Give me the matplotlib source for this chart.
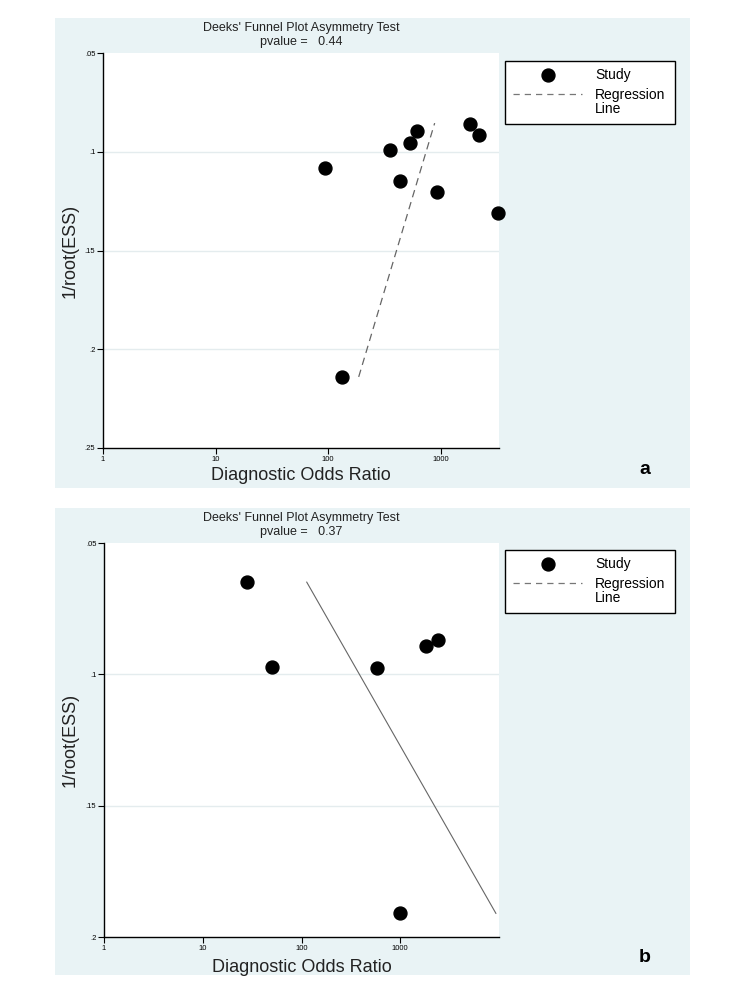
import numpy as np
import matplotlib
matplotlib.use('Agg')
from matplotlib import pyplot as plt
from matplotlib.patches import Rectangle
from matplotlib.lines import Line2D

plt.rcParams['font.family'] = ['Liberation Sans', 'DejaVu Sans']

# panel a data
dor_a = [93, 132, 354, 432, 530, 612, 921, 1811, 2176, 3212]
ess_a = [0.108, 0.214, 0.099, 0.115, 0.0955, 0.0895, 0.1205, 0.086, 0.0915, 0.131]
reg_x_a = [187, 885]
reg_y_a = [0.214, 0.0855]
pval_a = '0.44'

# panel b data
dor_b = [28.2, 50.3, 588, 1832, 2420, 1000]
ess_b = [0.0649, 0.0972, 0.0976, 0.0892, 0.0869, 0.191]
reg_x_b = [113, 9300]
reg_y_b = [0.0649, 0.191]
pval_b = '0.37'

yticks_a = [0.05, 0.1, 0.15, 0.2, 0.25]
yticks_b = [0.05, 0.1, 0.15, 0.2]
ylabels_a = ['.05', '.1', '.15', '.2', '.25']
ylabels_b = ['.05', '.1', '.15', '.2']
xticks = [1, 10, 100, 1000]
xlabels = ['1', '10', '100', '1000']

W, H = 752, 989
BG = '#e9f3f5'

def fbox(l, t, r, b):
    return [l / W, 1 - b / H, (r - l) / W, (b - t) / H]

fig = plt.figure(figsize=(W / 100, H / 100), dpi=100)

def panel(top, bottom, ax_box, xmax, ylim, yt, yl, dor, ess, rx, ry, dashed, pval, letter, leg_box, xlab_y):
    l, t, r, b = fbox(55, top, 690, bottom)
    fig.patches.append(Rectangle((l, t), r, b, transform=fig.transFigure,
                                 facecolor=BG, edgecolor='none', zorder=-5))
    ax = fig.add_axes(fbox(*ax_box))
    ax.set_zorder(1)
    ax.set_facecolor('white')
    ax.set_xscale('log')
    ax.set_xlim(1, xmax)
    ax.set_ylim(ylim[1], ylim[0])
    ax.set_yticks(yt)
    ax.set_yticklabels(yl, fontsize=5.5)
    ax.set_xticks(xticks)
    ax.set_xticklabels(xlabels, fontsize=5.5)
    ax.xaxis.set_minor_locator(matplotlib.ticker.NullLocator())
    ax.tick_params(length=4, width=0.8, pad=1.5)
    for s in ['top', 'right']:
        ax.spines[s].set_visible(False)
    ax.spines['left'].set_linewidth(1.0)
    ax.spines['bottom'].set_linewidth(1.0)
    for y in yt[1:-1]:
        ax.axhline(y, color='#e4ecee', lw=1.0, zorder=0)
    ax.plot(dor, ess, 'o', color='black', markersize=9.3, clip_on=False, zorder=3)
    if dashed:
        ax.plot(rx, ry, color='#666666', lw=0.9, dashes=(6, 4))
    else:
        ax.plot(rx, ry, color='#666666', lw=0.8)

    cx = (ax_box[0] + ax_box[2]) / 2 / W
    fig.text(cx, 1 - (top + 10) / H, "Deeks' Funnel Plot Asymmetry Test",
             ha='center', va='center', fontsize=9, color='#222222')
    fig.text(cx, 1 - (top + 24) / H, 'pvalue =   ' + pval,
             ha='center', va='center', fontsize=9, color='#222222')
    fig.text(cx, 1 - xlab_y / H, 'Diagnostic Odds Ratio',
             ha='center', va='center', fontsize=13, color='#222222')
    fig.text(70 / W, 1 - ((ax_box[1] + ax_box[3]) / 2) / H, '1/root(ESS)',
             ha='center', va='center', rotation=90, fontsize=13, color='#222222')
    fig.text(645 / W, 1 - (bottom - 18) / H, letter, ha='center', va='center',
             fontsize=14, fontweight='bold')

    # legend box
    ll, lt, lr, lb = leg_box
    fig.patches.append(Rectangle(((ll) / W, 1 - lb / H), (lr - ll) / W, (lb - lt) / H,
                                 transform=fig.transFigure, facecolor='white',
                                 edgecolor='black', lw=1.0, zorder=2))
    fig.lines.append(Line2D([548 / W], [1 - (lt + 14) / H], marker='o', color='black',
                            markersize=9.3, transform=fig.transFigure, zorder=3))
    fig.text(595 / W, 1 - (lt + 14) / H, 'Study', va='center', fontsize=10, zorder=3)
    fig.lines.append(Line2D([513 / W, 582 / W], [1 - (lt + 33) / H] * 2, color='#777777',
                            lw=0.9, dashes=(5, 4), transform=fig.transFigure, zorder=3))
    fig.text(595 / W, 1 - (lt + 41) / H, 'Regression\nLine', va='center', fontsize=10,
             linespacing=1.05, zorder=3)
    return ax

panel(18, 488, (103, 53, 499, 448), 3300, (0.05, 0.25), yticks_a, ylabels_a,
      dor_a, ess_a, reg_x_a, reg_y_a, True, pval_a, 'a', (505, 61, 675, 124), 475)
panel(508, 975, (104, 543, 499, 937), 10000, (0.05, 0.2), yticks_b, ylabels_b,
      dor_b, ess_b, reg_x_b, reg_y_b, False, pval_b, 'b', (505, 550, 675, 613), 967)

fig.savefig('out.png', dpi=100)
